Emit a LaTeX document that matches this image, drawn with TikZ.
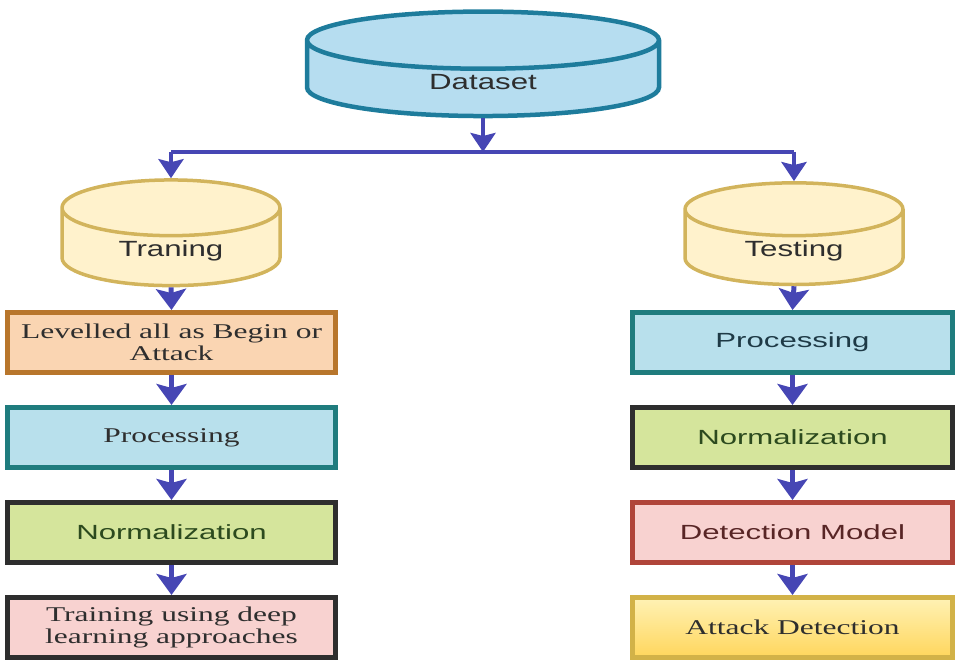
\documentclass[tikz,border=0pt]{standalone}
\usepackage{fontspec}
\newfontfamily\cylfont[FakeStretch=1.42]{Liberation Sans}
\newfontfamily\boxsans[FakeStretch=1.52]{Liberation Sans}
\newfontfamily\boxserif[FakeStretch=1.5]{Liberation Serif}
\usepackage{tikz}
\usetikzlibrary{shapes.geometric,arrows.meta,positioning}
\usepackage{xcolor}
\definecolor{flowblue}{HTML}{4646B4}
\definecolor{dbfill}{HTML}{B6DDF0}
\definecolor{dbline}{HTML}{1E7C9C}
\definecolor{setfill}{HTML}{FFF2CC}
\definecolor{setline}{HTML}{D2B45C}
\definecolor{labelfill}{HTML}{FAD5B2}
\definecolor{labelline}{HTML}{B8762C}
\definecolor{procfill}{HTML}{B8E0EC}
\definecolor{procline}{HTML}{1F7C7E}
\definecolor{normfill}{HTML}{D5E59C}
\definecolor{darkline}{HTML}{2E2E2E}
\definecolor{pinkfill}{HTML}{F8D2D0}
\definecolor{modelline}{HTML}{B0453A}
\definecolor{goldline}{HTML}{D2B248}
\definecolor{goldtop}{HTML}{FFF2B5}
\definecolor{goldbottom}{HTML}{FFD65C}
\definecolor{inkgreen}{HTML}{2C4A1E}
\definecolor{inkslate}{HTML}{1E3A46}

\begin{document}
\begin{tikzpicture}[x=1pt,y=1pt,>=Latex,
  node distance=30pt,
  db/.style={cylinder,shape border rotate=90,draw=dbline,fill=dbfill,line width=4.5pt,
    aspect=0.5,minimum width=352pt,minimum height=99pt,
    font=\cylfont\fontsize{22}{26}\selectfont,text=darkline},
  subset/.style={db,draw=setline,fill=setfill,line width=3.5pt,
    aspect=0.5,minimum width=218pt,minimum height=92pt},
  stepbox/.style={rectangle,line width=5pt,minimum height=60pt,align=center,
    font=\boxsans\fontsize{20.5}{24}\selectfont},
  leftbox/.style={stepbox,minimum width=328pt},
  rightbox/.style={stepbox,minimum width=320pt},
  serifbox/.style={font=\boxserif\fontsize{21}{22}\selectfont,text=darkline},
  flow/.style={draw=flowblue,line width=5pt},
  flowarrow/.style={flow,-{Stealth[length=21pt,width=30pt,inset=4pt]}},
  split/.style={flow,line width=4pt},
  splitarrow/.style={split,-{Stealth[length=19pt,width=25pt,inset=3pt]}}]
  \useasboundingbox (0,0) rectangle (958,663);
  % Databases
  \node[db] (data) at (483,581) {Dataset};
  \node[subset] (train) at (171,412) {Traning};
  \node[subset] (test) at (794,412) {Testing};
  % Training branch
  \node[leftbox,serifbox,draw=labelline,fill=labelfill] (label) at (171.5,320.5)
    {Levelled all as Begin or\\Attack};
  \node[leftbox,serifbox,draw=procline,fill=procfill,below=of label] (lproc) {Processing};
  \node[leftbox,draw=darkline,fill=normfill,text=inkgreen,below=of lproc] (lnorm) {Normalization};
  \node[leftbox,serifbox,draw=darkline,fill=pinkfill,below=of lnorm] (learn)
    {Training using deep\\learning approaches};
  % Testing branch
  \node[rightbox,draw=procline,fill=procfill,text=inkslate] (rproc) at (792.5,320.5) {Processing};
  \node[rightbox,draw=darkline,fill=normfill,text=inkgreen,below=of rproc] (rnorm) {Normalization};
  \node[rightbox,draw=modelline,fill=pinkfill,text=darkline!80!red,below=of rnorm] (model) {Detection Model};
  \node[rightbox,serifbox,draw=goldline,top color=goldtop,bottom color=goldbottom,
    below=of model] (attack) {Attack Detection};
  % Split
  \coordinate (fork) at (483,511);
  \draw[splitarrow] (data.south) -- (fork);
  \draw[split] (train.north |- fork) -- (test.north |- fork);
  \draw[splitarrow] (train.north |- fork) -- (train.north);
  \draw[splitarrow] (test.north |- fork) -- (test.north);
  % Chains
  \draw[flowarrow] (train.south) -- (label.north);
  \draw[flowarrow] (label) -- (lproc);
  \draw[flowarrow] (lproc) -- (lnorm);
  \draw[flowarrow] (lnorm) -- (learn);
  \draw[flowarrow] (test.south) -- (rproc.north);
  \draw[flowarrow] (rproc) -- (rnorm);
  \draw[flowarrow] (rnorm) -- (model);
  \draw[flowarrow] (model) -- (attack);
\end{tikzpicture}
\end{document}
